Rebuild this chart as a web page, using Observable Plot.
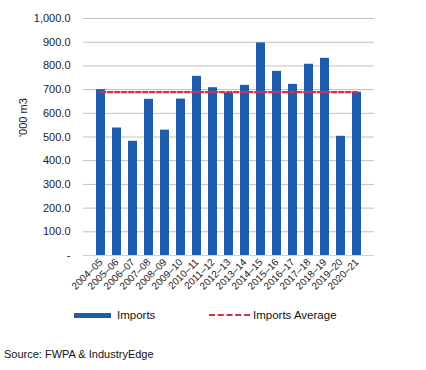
<!DOCTYPE html>
<html>
<head>
<meta charset="utf-8">
<script src="https://cdn.jsdelivr.net/npm/d3@7"></script>
<script src="https://cdn.jsdelivr.net/npm/@observablehq/plot@0.6"></script>
<style>
  html, body { margin: 0; padding: 0; background: #fff; }
  body { width: 426px; height: 370px; font-family: "Liberation Sans", Arial, sans-serif; color: #111; position: relative; }
  #chart svg { display: block; }
  .legend { position: absolute; top: 306px; left: 0; width: 426px; height: 18px; font-size: 11.5px; }
  .legend .item { position: absolute; top: 0; display: flex; align-items: center; height: 18px; }
  .legend .sw-bar { width: 37px; height: 5px; background: #1f5cab; margin-right: 6px; }
  .legend .sw-line { width: 41px; height: 0; border-top: 2.5px dashed #d6314b; margin-right: 3px; }
  .source { position: absolute; top: 348px; left: 4px; font-size: 11px; }
</style>
</head>
<body>
<div id="chart"></div>
<div class="legend">
  <div class="item" style="left:74px"><span class="sw-bar"></span><span>Imports</span></div>
  <div class="item" style="left:209px"><span class="sw-line"></span><span>Imports Average</span></div>
</div>
<div class="source">Source: FWPA &amp; IndustryEdge</div>
<script>
const years = ["2004–05","2005–06","2006–07","2007–08","2008–09","2009–10","2010–11","2011–12","2012–13","2013–14","2014–15","2015–16","2016–17","2017–18","2018–19","2019–20","2020–21"];
const imports = [700, 538, 482, 659, 529, 660, 756, 708, 686, 718, 897, 777, 722, 807, 832, 503, 689];
const importsAverage = 689;
const yTicks = [0, 100, 200, 300, 400, 500, 600, 700, 800, 900, 1000];

const data = years.map((y, i) => ({year: y, value: imports[i], avg: importsAverage}));
const fmt = d3.format(",.1f");

const plot = Plot.plot({
  width: 426,
  height: 300,
  marginLeft: 83,
  marginRight: 52,
  marginTop: 18,
  marginBottom: 45,
  style: {fontFamily: "Liberation Sans, Arial, sans-serif", fontSize: "11px", color: "#222"},
  x: {domain: years, padding: 0.42, label: null},
  y: {domain: [0, 1000], label: null},
  marks: [
    Plot.ruleY(yTicks.filter(d => d > 0), {stroke: "#c0c0c0", strokeWidth: 1}),
    Plot.ruleY([0], {stroke: "#d0d0d0", strokeWidth: 1}),
    Plot.barY(data, {x: "year", y: "value", fill: "#1f5cab"}),
    Plot.lineY(data, {x: "year", y: "avg", stroke: "#d6314b", strokeWidth: 2.2, strokeDasharray: "4.5,2.5"}),
    Plot.axisY({ticks: yTicks, tickSize: 0, tickPadding: 13, tickFormat: d => d === 0 ? "-" : fmt(d), fontSize: 11}),
    Plot.axisX({tickSize: 0, tickPadding: 5, tickRotate: -45, fontSize: 10}),
    Plot.text(["'000 m3"], {frameAnchor: "left", dx: -60, rotate: -90, fontSize: 11})
  ]
});
document.getElementById("chart").appendChild(plot);
</script>
</body>
</html>
